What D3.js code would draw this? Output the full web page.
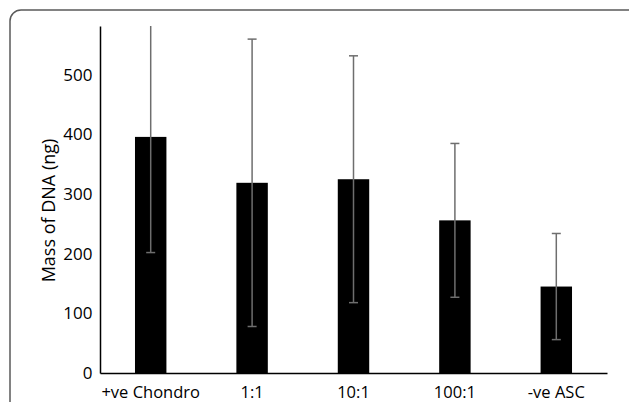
<!DOCTYPE html>
<html>
<head>
<meta charset="utf-8">
<script src="https://cdn.jsdelivr.net/npm/d3@7"></script>
<style>
  body { margin: 0; background: #fff; }
  svg { display: block; font-family: "Open Sans", sans-serif; }
</style>
</head>
<body>
<svg id="chart" width="629" height="402"></svg>
<script>
// Chart data
const categories = ['+ve Chondro', '1:1', '10:1', '100:1', '-ve ASC'];
const means = [396, 319, 325, 256, 145];
const errors = [194, 241, 207, 129, 89];
const yTicks = [0, 100, 200, 300, 400, 500];

const svg = d3.select('#chart');

// Rounded frame (cut off at the bottom and right in the original)
svg.append('rect')
  .attr('x', 10)
  .attr('y', 10)
  .attr('width', 640)
  .attr('height', 420)
  .attr('rx', 11)
  .attr('fill', 'none')
  .attr('stroke', '#5a5a5a')
  .attr('stroke-width', 1.5);

const margin = { left: 100, right: 22, top: 26, bottom: 29 };
const width = 629;
const height = 402;

const x = d3.scaleBand()
  .domain(categories)
  .range([margin.left, width - margin.right])
  .paddingInner(0.69)
  .paddingOuter(0.345);

const y = d3.scaleLinear()
  .domain([0, 582])
  .range([height - margin.bottom, margin.top]);

svg.append('defs').append('clipPath').attr('id', 'plot-clip')
  .append('rect')
  .attr('x', margin.left)
  .attr('y', margin.top)
  .attr('width', width - margin.left - margin.right)
  .attr('height', height - margin.top - margin.bottom);

// Bars
svg.append('g')
  .selectAll('rect')
  .data(categories)
  .join('rect')
  .attr('x', d => x(d))
  .attr('y', (d, i) => y(means[i]))
  .attr('width', x.bandwidth())
  .attr('height', (d, i) => y(0) - y(means[i]))
  .attr('fill', '#000');

// Error bars (the first one runs off the top of the plot)
const err = svg.append('g').attr('clip-path', 'url(#plot-clip)')
  .attr('stroke', '#6e6e6e')
  .attr('stroke-width', 1.5);

categories.forEach((c, i) => {
  const cx = x(c) + x.bandwidth() / 2;
  const lo = y(means[i] - errors[i]);
  const hi = y(means[i] + errors[i]);
  err.append('line').attr('x1', cx).attr('x2', cx).attr('y1', lo).attr('y2', hi);
  err.append('line').attr('x1', cx - 4.5).attr('x2', cx + 4.5).attr('y1', lo).attr('y2', lo);
  err.append('line').attr('x1', cx - 4.5).attr('x2', cx + 4.5).attr('y1', hi).attr('y2', hi);
});

// Y axis
const yAxis = svg.append('g')
  .attr('transform', `translate(${margin.left},0)`)
  .call(d3.axisLeft(y).tickValues(yTicks).tickSize(0).tickPadding(7.5));
yAxis.select('.domain').attr('stroke', '#000').attr('stroke-width', 1.5);
yAxis.selectAll('text')
  .attr('font-family', '"Open Sans", sans-serif')
  .attr('font-size', 17)
  .attr('fill', '#000');

// X axis
const xAxis = svg.append('g')
  .attr('transform', `translate(0,${y(0)})`)
  .call(d3.axisBottom(x).tickSize(0).tickPadding(13.5));
xAxis.select('.domain').attr('stroke', '#000').attr('stroke-width', 1.5);
xAxis.selectAll('text')
  .attr('font-family', '"Open Sans", sans-serif')
  .attr('font-size', 16.5)
  .attr('fill', '#000');

// Y axis title
svg.append('text')
  .attr('transform', 'translate(55,210.5) rotate(-90)')
  .attr('text-anchor', 'middle')
  .attr('font-size', 18)
  .attr('fill', '#000')
  .text('Mass of DNA (ng)');
</script>
</body>
</html>
